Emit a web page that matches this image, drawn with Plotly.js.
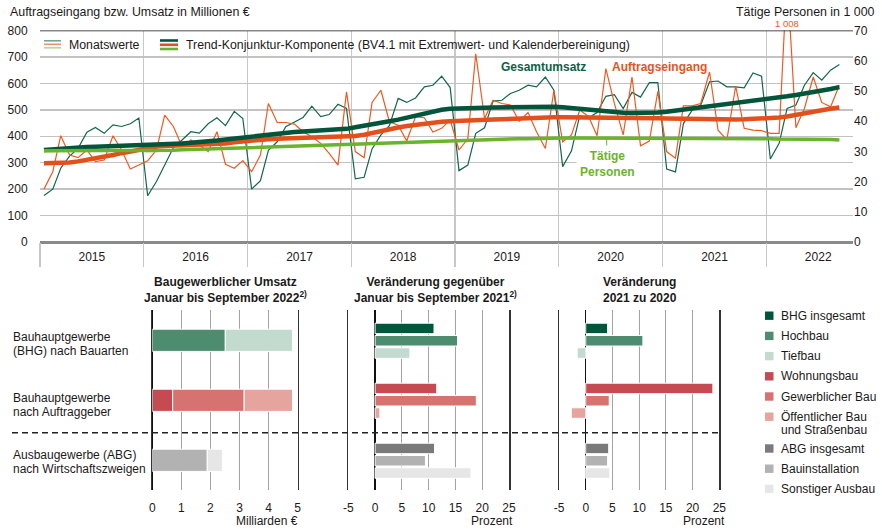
<!DOCTYPE html>
<html>
<head>
<meta charset="utf-8">
<script src="https://cdn.plot.ly/plotly-3.0.1.min.js"></script>
<style>
  html, body { margin: 0; padding: 0; background: #fff; }
  #chart { width: 882px; height: 530px; }
</style>
</head>
<body>
<div id="chart"></div>
<script>
// Monatswerte Jan 2015 - Sep 2022, Mio. EUR
const umsatz = [
  176, 200, 279, 325, 354, 415, 433, 411, 443, 437, 447, 469,
  175, 229, 291, 358, 386, 417, 412, 447, 470, 440, 494, 467,
  200, 232, 347, 379, 436, 455, 471, 514, 474, 482, 521, 505,
  239, 245, 352, 405, 440, 543, 528, 545, 587, 593, 627, 584,
  270, 291, 411, 432, 533, 536, 562, 574, 593, 587, 624, 574,
  285, 345, 478, 470, 490, 551, 557, 505, 566, 548, 603, 603,
  276, 265, 448, 499, 518, 606, 609, 587, 587, 583, 639, 627,
  314, 373, 505, 518, 593, 641, 612, 650, 671
];
const auftrag = [
  200, 266, 402, 329, 319, 348, 304, 310, 402, 348, 276, 291,
  307, 348, 480, 436, 361, 386, 367, 342, 417, 294, 279, 308,
  266, 329, 524, 452, 452, 446, 417, 398, 373, 335, 291, 568,
  342, 319, 528, 574, 455, 442, 382, 474, 470, 416, 430, 462,
  348, 390, 712, 467, 536, 524, 518, 457, 490, 417, 354, 574,
  379, 405, 499, 475, 402, 656, 524, 405, 624, 364, 382, 570,
  342, 317, 515, 515, 524, 643, 423, 386, 590, 430, 423, 421,
  411, 411, 1008, 432, 505, 624, 528, 511, 593
];
// Tätige Personen in 1 000
const personen = [
  29.8, 29.8, 30.0, 30.2, 30.3, 30.3, 30.3, 30.3, 30.4, 30.4, 30.3, 30.1,
  29.8, 29.9, 30.1, 30.4, 30.6, 30.7, 30.8, 30.9, 31.1, 31.2, 31.2, 31.1,
  30.9, 31.0, 31.3, 31.6, 31.8, 31.9, 32.0, 32.1, 32.3, 32.4, 32.4, 32.3,
  32.1, 32.2, 32.5, 32.8, 33.0, 33.1, 33.2, 33.3, 33.5, 33.6, 33.6, 33.5,
  33.3, 33.4, 33.7, 34.0, 34.1, 34.2, 34.2, 34.3, 34.4, 34.5, 34.4, 34.2,
  34.0, 34.0, 34.2, 34.4, 34.5, 34.5, 34.5, 34.5, 34.6, 34.6, 34.5, 34.3,
  34.0, 34.0, 34.2, 34.4, 34.5, 34.4, 34.4, 34.4, 34.5, 34.5, 34.4, 34.1,
  33.8, 33.7, 33.9, 34.0, 34.1, 34.1, 34.0, 34.0, 34.0
];
// Trend-Konjunktur-Komponente
const umsatzTrend = [
  348, 351, 353, 355, 357, 359, 360, 361, 362, 364, 365, 367,
  369, 370, 371, 372, 373, 375, 377, 380, 384, 388, 392, 395,
  398, 401, 405, 409, 413, 416, 418, 420, 421, 422, 424, 428,
  434, 439, 445, 451, 457, 463, 471, 479, 487, 494, 500, 504,
  506, 507, 508, 508, 509, 510, 511, 512, 513, 513, 513, 512,
  510, 507, 503, 499, 495, 492, 490, 489, 488, 488, 489, 490,
  493, 497, 501, 505, 509, 513, 517, 521, 525, 529, 533, 537,
  541, 546, 551, 556, 561, 567, 573, 579, 586
];
const auftragTrend = [
  298, 298, 299, 301, 305, 310, 316, 322, 329, 336, 343, 350,
  357, 361, 363, 364, 365, 366, 367, 368, 370, 373, 377, 381,
  384, 387, 389, 391, 392, 393, 393, 393, 393, 394, 395, 397,
  401, 406, 413, 420, 427, 433, 439, 444, 448, 452, 455, 457,
  459, 460, 461, 462, 463, 464, 466, 468, 470, 471, 472, 472,
  472, 472, 472, 471, 471, 470, 470, 470, 469, 469, 469, 468,
  467, 466, 465, 464, 464, 463, 463, 463, 463, 464, 465, 466,
  468, 471, 475, 480, 486, 492, 498, 504, 509
];
const personenTrend = [
  30.2, 30.2, 30.2, 30.2, 30.2, 30.2, 30.2, 30.2, 30.2, 30.2, 30.2, 30.2,
  30.2, 30.3, 30.3, 30.4, 30.5, 30.6, 30.7, 30.8, 30.9, 31.0, 31.1, 31.2,
  31.3, 31.4, 31.5, 31.6, 31.7, 31.8, 31.9, 32.0, 32.1, 32.2, 32.3, 32.4,
  32.5, 32.6, 32.7, 32.8, 32.9, 33.0, 33.1, 33.2, 33.3, 33.4, 33.5, 33.6,
  33.7, 33.8, 33.9, 34.0, 34.0, 34.1, 34.1, 34.2, 34.2, 34.3, 34.3, 34.3,
  34.4, 34.4, 34.4, 34.4, 34.4, 34.4, 34.4, 34.4, 34.4, 34.4, 34.4, 34.4,
  34.4, 34.4, 34.4, 34.4, 34.4, 34.3, 34.3, 34.3, 34.3, 34.3, 34.3, 34.2,
  34.2, 34.1, 34.1, 34.0, 34.0, 34.0, 33.9, 33.9, 33.8
];

// Untere Teilgrafiken
const rowLabels = ['Bauhauptgewerbe<br>(BHG) nach Bauarten', 'Bauhauptgewerbe<br>nach Auftraggeber', 'Ausbaugewerbe (ABG)<br>nach Wirtschaftszweigen'];
const series = ['BHG insgesamt', 'Hochbau', 'Tiefbau', 'Wohnungsbau', 'Gewerblicher Bau', 'Öffentlicher Bau<br>und Straßenbau', 'ABG insgesamt', 'Bauinstallation', 'Sonstiger Ausbau'];
const seriesRow = [0, 0, 0, 1, 1, 1, 2, 2, 2];
// Milliarden EUR, Januar bis September 2022 (Insgesamt-Zeilen nicht gestapelt)
const umsatz2022 = [null, 2.51, 2.31, 0.70, 2.46, 1.66, null, 1.89, 0.52];
const aend2022 = [11.0, 15.4, 6.5, 11.5, 18.9, 0.9, 11.1, 9.4, 17.9];
const aend2021 = [4.1, 10.7, -1.6, 23.8, 4.4, -2.7, 4.3, 4.1, 4.5];
const pctTicks = [-5, 0, 5, 10, 15, 20, 25];
const mrdTicks = [0, 1, 2, 3, 4, 5];

const colors = ['#00553b', '#4d8c6f', '#c3dace', '#c64a52', '#d6726f', '#e6a49f', '#7a7a7b', '#b2b2b3', '#e6e6e6'];
const FONT = "'Liberation Sans', Arial, sans-serif";
const W = 882, H = 530;
const px = v => v / W;
const py = v => 1 - v / H;

const months = [];
for (let y = 2015; y <= 2022; y++) {
  for (let m = 1; m <= 12; m++) months.push(y + '-' + String(m).padStart(2, '0') + '-15');
}
const dates = months.slice(0, umsatz.length);

function line(y, color, width, axis) {
  return {type: 'scatter', mode: 'lines', x: dates, y: y, yaxis: axis, xaxis: 'x',
          line: {color: color, width: width}, hoverinfo: 'skip', showlegend: false};
}

const traces = [
  line(personen, '#a9d57f', 1.2, 'y2'),
  line(umsatz, '#126649', 1.2, 'y'),
  line(auftrag, '#ec5a24', 1.2, 'y'),
  line(personenTrend, '#6ab42d', 3.5, 'y2'),
  line(auftragTrend, '#e2501c', 4.5, 'y'),
  line(umsatzTrend, '#00553a', 4.5, 'y')
];

// Baugewerblicher Umsatz: gestapelt je Zeile
const rowBase = [0, 0, 0];
series.forEach((name, k) => {
  const v = umsatz2022[k];
  if (v == null) return;
  const r = seriesRow[k];
  traces.push({type: 'bar', orientation: 'h', x: [v], y: [r], base: [rowBase[r]],
    width: 0.37, offset: -0.18, xaxis: 'x3', yaxis: 'y3',
    marker: {color: colors[k], line: {color: '#ffffff', width: 1}},
    hoverinfo: 'skip', showlegend: false});
  rowBase[r] += v;
});

// Veränderungen: gruppiert
const slotOf = series.map((s, k) => seriesRow.slice(0, k).filter(r => r === seriesRow[k]).length);
[[aend2022, 'x4', 'y4'], [aend2021, 'x5', 'y5']].forEach(([vals, xa, ya]) => {
  series.forEach((name, k) => {
    traces.push({type: 'bar', orientation: 'h', x: [vals[k]], y: [seriesRow[k]],
      width: 0.175, offset: -0.28 + 0.205 * slotOf[k], xaxis: xa, yaxis: ya,
      marker: {color: colors[k], line: {color: '#ffffff', width: 1}},
      hoverinfo: 'skip', showlegend: false});
  });
});

const tickFont = {family: FONT, size: 12, color: '#1a1a1a'};
const panelY = {domain: [py(490), py(310)], range: [2.5, -0.5], showticklabels: false,
  showgrid: false, zeroline: false, showline: true, mirror: true, linecolor: '#333333', linewidth: 1.5, fixedrange: true};
function panelX(dom, range, ticks, anchor) {
  return {domain: dom, range: range, anchor: anchor, tickmode: 'array', tickvals: ticks,
    ticktext: ticks.map(String), showgrid: true, gridcolor: '#a3a3a3', gridwidth: 1,
    zeroline: true, zerolinecolor: '#111111', zerolinewidth: 1.5, showline: false,
    ticks: 'outside', ticklen: 7, tickcolor: 'rgba(0,0,0,0)', tickfont: tickFont, fixedrange: true};
}

const shapes = [
  {type: 'line', xref: 'paper', yref: 'y', x0: px(40), x1: px(853), y0: 800, y1: 800, line: {color: '#111', width: 1.5}},
  {type: 'line', xref: 'paper', yref: 'paper', x0: px(12), x1: px(720), y0: py(432.7), y1: py(432.7), line: {color: '#222', width: 1.5, dash: '6px,4px'}},
  {type: 'line', xref: 'paper', yref: 'paper', x0: px(606.7), x1: px(606.7), y0: py(139), y1: py(148.5), line: {color: '#6ab42d', width: 1}},
  // Legende oben
  {type: 'line', xref: 'paper', yref: 'paper', x0: px(44), x1: px(61), y0: py(40.8), y1: py(40.8), line: {color: '#74a896', width: 1.6}},
  {type: 'line', xref: 'paper', yref: 'paper', x0: px(44), x1: px(61), y0: py(44.3), y1: py(44.3), line: {color: '#f19068', width: 1.6}},
  {type: 'line', xref: 'paper', yref: 'paper', x0: px(44), x1: px(61), y0: py(47.8), y1: py(47.8), line: {color: '#b2db8b', width: 1.6}},
  {type: 'line', xref: 'paper', yref: 'paper', x0: px(160), x1: px(178), y0: py(40.5), y1: py(40.5), line: {color: '#00553a', width: 2.6}},
  {type: 'line', xref: 'paper', yref: 'paper', x0: px(160), x1: px(178), y0: py(44.8), y1: py(44.8), line: {color: '#e2501c', width: 2.6}},
  {type: 'line', xref: 'paper', yref: 'paper', x0: px(160), x1: px(178), y0: py(49), y1: py(49), line: {color: '#6ab42d', width: 2.6}}
];

const annotations = [
  {text: 'Auftragseingang bzw. Umsatz in Millionen €', x: px(8), y: py(12), xanchor: 'left', font: {size: 12.4}},
  {text: 'Tätige Personen in 1 000', x: px(877), y: py(12), xanchor: 'right', font: {size: 12.4}},
  {text: 'Monatswerte', x: px(67), y: py(44.5), xanchor: 'left', font: {size: 12.3}},
  {text: 'Trend-Konjunktur-Komponente (BV4.1 mit Extremwert- und Kalenderbereinigung)', x: px(184), y: py(44.5), xanchor: 'left', font: {size: 12.3}},
  {text: '<b>Gesamtumsatz</b>', x: px(543.5), y: py(66.5), font: {color: '#0c6245', size: 12}},
  {text: '<b>Auftragseingang</b>', x: px(659), y: py(67), font: {color: '#e8531e', size: 12}},
  {text: '<b>Tätige<br>Personen</b>', x: px(607), y: py(164), font: {color: '#6ab42d', size: 12}, bgcolor: '#ffffff', borderpad: 3},
  {text: '<b>Baugewerblicher Umsatz<br>Januar bis September 2022<sup>2)</sup></b>', x: px(225), y: py(289.5)},
  {text: '<b>Veränderung gegenüber<br>Januar bis September 2021<sup>2)</sup></b>', x: px(435.5), y: py(289.5)},
  {text: '<b>Veränderung<br>2021 zu 2020</b>', x: px(639.5), y: py(289.5)},
  {text: 'Milliarden €', x: px(300), y: py(521), xanchor: 'right'},
  {text: 'Prozent', x: px(515), y: py(521), xanchor: 'right'},
  {text: 'Prozent', x: px(727), y: py(521), xanchor: 'right'}
];

// mehrzeilige Beschriftungen mit engerem Zeilenabstand
function textLines(text, x, yFirst, gap, font) {
  text.split('<br>').forEach((t, i) => annotations.push({text: t, x: px(x), y: py(yFirst + i * gap),
    xanchor: 'left', align: 'left', font: font}));
}
const rowFirstLine = [337, 397.5, 455];
rowLabels.forEach((t, r) => textLines(t, 11, rowFirstLine[r], 14.3, {size: 12}));

// Spitzenwert über dem Rand
const peak = auftrag.indexOf(Math.max(...auftrag));
annotations.push({text: String(auftrag[peak]).replace(/\B(?=(\d{3})+(?!\d))/g, ' '), xref: 'x', x: dates[peak],
  y: py(24), font: {color: '#ec5a24', size: 9.5}});

// Legende unten
series.forEach((name, k) => {
  const cy = 315.7 + 20.2 * k + (k > 5 ? 11.6 : 0);
  shapes.push({type: 'rect', xref: 'paper', yref: 'paper', x0: px(765), x1: px(773.5), y0: py(cy - 4.2), y1: py(cy + 4.2),
    fillcolor: colors[k], line: {width: 0}});
  textLines(name, 779, cy, 12.8, {size: 12});
});
annotations.forEach(a => {
  a.xref = a.xref || 'paper';
  a.yref = 'paper';
  a.showarrow = false;
  a.yanchor = 'middle';
  a.xanchor = a.xanchor || 'center';
  a.font = Object.assign({family: FONT, size: 12, color: '#1a1a1a'}, a.font || {});
});

const layout = {
  width: W, height: H,
  margin: {l: 0, r: 0, t: 0, b: 0},
  paper_bgcolor: '#ffffff', plot_bgcolor: 'rgba(0,0,0,0)',
  showlegend: false, barmode: 'overlay', hovermode: false,
  font: {family: FONT, size: 12, color: '#1a1a1a'},
  xaxis: {
    type: 'date', domain: [px(40), px(853)], range: ['2015-01-01', '2022-11-02'],
    tickmode: 'linear', tick0: '2015-01-01', dtick: 'M12', ticklabelmode: 'period', tickformat: '%Y',
    showgrid: true, gridcolor: '#c8c8c8', gridwidth: 1.5,
    ticks: 'outside', ticklen: 24, tickwidth: 1.5, tickcolor: '#c8c8c8',
    ticklabelstandoff: -20, tickfont: tickFont, showline: false, zeroline: false, anchor: 'y', fixedrange: true
  },
  yaxis: {
    domain: [py(242), py(30.5)], range: [0, 800], dtick: 100, anchor: 'x',
    showgrid: true, gridcolor: '#c2c2c2', gridwidth: 1.5,
    zeroline: true, zerolinecolor: '#8a8a8a', zerolinewidth: 3,
    ticks: 'outside', ticklen: 9, tickcolor: 'rgba(0,0,0,0)', tickfont: tickFont, fixedrange: true
  },
  yaxis2: {
    overlaying: 'y', side: 'right', range: [0, 70], dtick: 10, anchor: 'x',
    showgrid: false, zeroline: false, showline: false, tickfont: tickFont, fixedrange: true
  },
  xaxis3: panelX([px(152.3), px(297.7)], [0, 5], mrdTicks, 'y3'),
  yaxis3: Object.assign({anchor: 'x3'}, panelY),
  xaxis4: panelX([px(348.3), px(509)], [-5, 25], pctTicks, 'y4'),
  yaxis4: Object.assign({anchor: 'x4'}, panelY),
  xaxis5: panelX([px(559), px(719.3)], [-5, 25], pctTicks, 'y5'),
  yaxis5: Object.assign({anchor: 'x5'}, panelY),
  shapes: shapes,
  annotations: annotations
};

Plotly.newPlot('chart', traces, layout, {displayModeBar: false, staticPlot: true});
</script>
</body>
</html>
